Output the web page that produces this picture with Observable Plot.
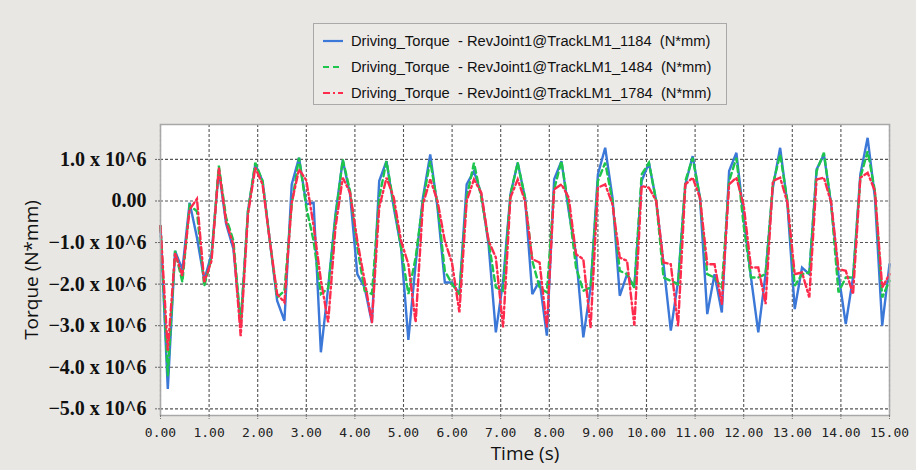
<!DOCTYPE html>
<html><head><meta charset="utf-8">
<script src="https://cdn.jsdelivr.net/npm/d3@7"></script>
<script src="https://cdn.jsdelivr.net/npm/@observablehq/plot@0.6"></script>
<style>
html,body{margin:0;padding:0;background:#e8e7e4;}
#wrap{position:relative;width:916px;height:470px;overflow:hidden;background:#e8e7e4;}
#chart{position:absolute;left:0;top:0;}
#legend{position:absolute;left:313px;top:23px;width:414px;height:82px;box-sizing:border-box;border:1px solid #a9a9a9;background:#eceae7;font-family:"Liberation Sans",Arial,sans-serif;font-size:14.7px;color:#111;}
.row{position:absolute;left:8px;height:20px;display:flex;align-items:center;white-space:pre;}
.row svg{margin-right:7px;}
</style></head><body><div id="wrap"><div id="chart"></div><div id="legend"></div></div>
<script>
// sampling step of the simulation output (s)
const step = 0.15;
const times = d3.range(101).map(i => +(i * step).toFixed(2));

// Torque values in units of 10^6 N*mm
const blue = [
 -0.6,-4.52,-1.2,-1.65,-0.04,-0.88,-1.9,-1.28,0.75,-0.55,
 -1.15,-3.0,-0.24,0.88,0.48,-0.96,-2.4,-2.88,0.4,1.04,
 -0.08,-0.04,-3.64,-2.08,-0.32,0.98,0.16,-1.76,-2.08,-2.92,
 0.48,0.96,-0.16,-1.12,-3.34,-1.52,0.08,1.12,-0.16,-1.96,
 -1.96,-2.24,0.4,0.72,0.16,-1.04,-3.16,-1.92,0.16,0.92,
 0.08,-2.24,-1.92,-3.24,0.52,0.96,-0.24,-1.28,-3.28,-2.08,
 0.64,1.28,0.08,-2.28,-1.76,-2.08,0.48,0.92,0.0,-1.52,
 -3.12,-1.92,0.4,1.08,0.08,-2.72,-1.76,-2.68,0.72,1.16,
 -0.4,-1.84,-3.16,-1.76,0.32,1.28,-0.08,-2.6,-1.6,-1.76,
 0.76,1.12,-0.08,-1.76,-2.96,-1.84,0.64,1.52,0.08,-3.0,
 -1.52];
const green = [
 -0.6,-4.2,-1.2,-1.95,-0.1,-0.25,-2.05,-1.36,0.85,-0.4,
 -0.95,-2.95,-0.24,0.92,0.48,-0.96,-2.32,-2.16,-0.08,1.04,
 -0.15,-0.96,-2.24,-2.1,-0.4,1.0,0.24,-1.12,-2.16,-2.24,
 0.08,0.96,-0.08,-1.12,-2.24,-1.36,0.0,0.96,-0.08,-1.68,
 -2.0,-2.24,0.08,0.92,0.08,-0.96,-2.08,-2.16,0.16,0.92,
 0.08,-1.44,-2.08,-2.2,0.28,0.96,-0.16,-1.6,-2.16,-2.08,
 0.48,0.92,0.0,-1.68,-1.76,-2.08,0.64,0.92,0.0,-1.84,
 -1.92,-2.0,0.48,1.04,0.08,-1.76,-1.84,-2.08,0.48,1.04,
 -0.6,-1.84,-1.84,-1.76,0.4,1.12,0.0,-2.04,-1.76,-1.72,
 0.72,1.16,-0.08,-2.2,-1.84,-1.84,0.56,1.2,0.24,-2.32,
 -1.92];
const red = [
 -0.6,-3.6,-1.25,-1.8,-0.2,0.05,-1.95,-1.44,0.8,-0.5,
 -1.05,-3.25,-0.32,0.8,0.4,-0.96,-2.24,-2.44,-0.04,0.76,
 0.5,-0.6,-1.9,-2.92,-0.64,0.56,0.2,-0.96,-1.92,-2.92,
 -0.16,0.56,0.08,-0.96,-1.52,-2.92,-0.08,0.52,0.0,-0.96,
 -1.5,-2.68,0.0,0.52,0.2,-0.96,-1.36,-3.04,0.08,0.52,
 0.0,-1.4,-1.48,-3.04,0.28,0.4,0.08,-1.28,-1.4,-3.04,
 0.32,0.4,-0.08,-1.36,-1.44,-3.0,0.36,0.32,0.0,-1.48,
 -1.52,-3.0,0.4,0.56,0.08,-1.52,-1.52,-2.48,0.4,0.56,
 -0.1,-1.6,-1.6,-2.48,0.48,0.56,-0.04,-1.76,-1.72,-2.32,
 0.52,0.56,-0.04,-1.64,-1.68,-2.24,0.56,0.68,0.24,-2.08,
 -1.76];

const seriesNames = [
 "Driving_Torque  - RevJoint1@TrackLM1_1184  (N*mm)",
 "Driving_Torque  - RevJoint1@TrackLM1_1484  (N*mm)",
 "Driving_Torque  - RevJoint1@TrackLM1_1784  (N*mm)"
];
const seriesColors = ["#3b78d8", "#1dc54c", "#ff2b4c"];
const seriesDash = [null, "6,4", "7,3,2,3"];

const xTicks = [0,1,2,3,4,5,6,7,8,9,10,11,12,13,14,15];
const xTickLabels = ["0.00","1.00","2.00","3.00","4.00","5.00","6.00","7.00","8.00","9.00","10.00","11.00","12.00","13.00","14.00","15.00"];
const yTicks = [1,0,-1,-2,-3,-4,-5];
const yTickLabels = ["1.0 x 10^6","0.00","\u22121.0 x 10^6","\u22122.0 x 10^6","\u22123.0 x 10^6","\u22124.0 x 10^6","\u22125.0 x 10^6"];
const xTitle = "Time (s)";
const yTitle = "Torque (N*mm)";

const allSeries = [blue, green, red];

const chart = Plot.plot({
  width: 916, height: 470,
  marginLeft: 160, marginRight: 27, marginTop: 124, marginBottom: 55,
  style: {background: "transparent", overflow: "visible"},
  x: {domain: [0, 15]},
  y: {domain: [-5.16, 1.84]},
  marks: [
    Plot.frame({fill: "white", stroke: null}),
    Plot.gridX(xTicks, {stroke: "#555", strokeOpacity: 1, strokeDasharray: "3,2", strokeWidth: 1.1}),
    Plot.gridY(yTicks, {stroke: "#555", strokeOpacity: 1, strokeDasharray: "3,2", strokeWidth: 1.1}),
    ...allSeries.map((s, k) => Plot.line(s, {
      x: (d, i) => times[i], y: d => d,
      stroke: seriesColors[k], strokeWidth: 2.4,
      strokeDasharray: seriesDash[k] || undefined,
      strokeLinejoin: "miter", strokeMiterlimit: 3
    })),
    Plot.frame({stroke: "#a8a8a8", strokeWidth: 1.5}),
    Plot.axisX(xTicks, {
      tickFormat: d => xTickLabels[xTicks.indexOf(d)],
      tickSize: 4, tickPadding: 8, stroke: "#777", strokeDasharray: "2,1",
      fontSize: 13, fontFamily: "DejaVu Sans Mono", fill: "#222", label: null
    }),
    Plot.axisY(yTicks, {
      tickFormat: d => yTickLabels[yTicks.indexOf(d)],
      tickSize: 5, tickPadding: 9, stroke: "#666", strokeDasharray: "2,1",
      fontSize: 20, fontFamily: "Liberation Serif", fontWeight: "bold", fill: "#111", label: null
    }),
    Plot.text([xTitle], {frameAnchor: "bottom", lineAnchor: "middle", dy: 38, fontSize: 19, fontFamily: "Open Sans", fill: "#111"}),
    Plot.text([yTitle], {frameAnchor: "left", textAnchor: "middle", lineAnchor: "middle", dx: -129, rotate: -90, fontSize: 19, fontFamily: "Open Sans", fill: "#111"})
  ]
});
document.getElementById("chart").appendChild(chart);

// legend
const legend = document.getElementById("legend");
seriesNames.forEach((name, k) => {
  const row = document.createElement("div");
  row.className = "row";
  row.style.top = (7 + 26 * k) + "px";
  const sw = d3.create("svg").attr("width", 22).attr("height", 10);
  sw.append("line").attr("x1", 1).attr("x2", 21).attr("y1", 5).attr("y2", 5)
    .attr("stroke", seriesColors[k]).attr("stroke-width", 2.2)
    .attr("stroke-dasharray", seriesDash[k] || null);
  row.appendChild(sw.node());
  const span = document.createElement("span");
  span.textContent = name;
  row.appendChild(span);
  legend.appendChild(row);
});
</script></body></html>
